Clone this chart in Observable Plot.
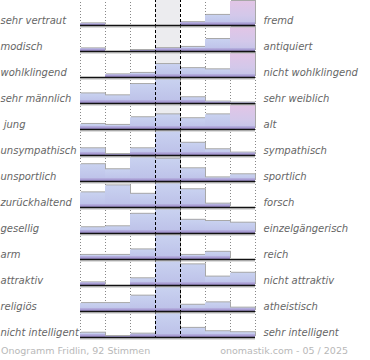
<!DOCTYPE html>
<html>
<head>
<meta charset="utf-8">
<script src="https://cdn.jsdelivr.net/npm/d3@7"></script>
<script src="https://cdn.jsdelivr.net/npm/@observablehq/plot@0.6"></script>
<style>
  body { margin: 0; background: #fff; }
  #chart svg text { white-space: pre; }
  #foot { display: flex; justify-content: space-between; width: 347px; padding-left: 1px;
          font: 9.5px "DejaVu Sans", sans-serif; color: #b8b8b8; height: 18px; line-height: 18px; }
</style>
</head>
<body>
<div id="chart"></div>
<div id="foot"><span>Onogramm Fridlin, 92 Stimmen</span><span>onomastik.com - 05 / 2025</span></div>
<script>
const leftLabels = ["sehr vertraut", "modisch", "wohlklingend", "sehr männlich", " jung", "unsympathisch", "unsportlich", "zurückhaltend", "gesellig", "arm", "attraktiv", "religiös", "nicht intelligent"];
const rightLabels = ["fremd", "antiquiert", "nicht wohlklingend", "sehr weiblich", "alt", "sympathisch", "sportlich", "forsch", "einzelgängerisch", "reich", "nicht attraktiv", "atheistisch", "sehr intelligent"];
const steps = [1, 2, 3, 4, 5, 6, 7];
// share of each answer, relative to the most frequent answer of the row (= 100)
const votes = [
  [7, 0, 0, 0, 12, 42, 100],
  [11, 0, 4, 12, 17, 50, 100],
  [0, 11, 17, 54, 37, 32, 100],
  [40, 32, 79, 100, 24, 6, 2],
  [21, 17, 49, 61, 45, 61, 100],
  [28, 4, 28, 100, 51, 24, 10],
  [70, 49, 100, 93, 53, 15, 28],
  [61, 90, 55, 100, 74, 14, 0],
  [24, 28, 80, 100, 55, 50, 43],
  [17, 17, 40, 100, 17, 30, 0],
  [11, 0, 28, 100, 86, 35, 51],
  [33, 33, 64, 100, 26, 36, 14],
  [18, 4, 14, 100, 38, 24, 20]
];

const table = leftLabels.flatMap((row, i) => votes[i].map((v, j) => ({
  row, col: steps[j], v, extreme: v === Math.max(...votes[i]) && j === steps.length - 1
})));
const bars = table.filter(d => d.v > 0);
const rows = leftLabels.map((row, i) => ({row, right: rightLabels[i]}));

const chart = Plot.plot({
  width: 370,
  height: 342,
  marginTop: -1,
  marginBottom: 5,
  marginLeft: 80,
  marginRight: 115,
  x: {domain: steps, padding: 0, axis: null},
  y: {domain: [0, 100 * 26 / 24], axis: null},
  fy: {domain: leftLabels, padding: 0, axis: null},
  marks: [
    Plot.cell(leftLabels.map(row => ({row, col: 4})), {x: "col", fy: "row", fill: "#ececef", inset: 0}),
    Plot.ruleX([1, 2, 3, 6, 7], {x: d => d, dx: -12.5, stroke: "#888", strokeDasharray: "1,2"}),
    Plot.ruleX([7], {x: d => d, dx: 12.5, stroke: "#888", strokeDasharray: "1,2"}),
    Plot.barY(bars, {x: "col", y: "v", fy: "row", fill: "#a8a8a8", dx: 1, dy: -1}),
    Plot.barY(bars.filter(d => !d.extreme), {x: "col", y: "v", fy: "row", fill: "url(#gBlue)"}),
    Plot.barY(bars.filter(d => d.extreme), {x: "col", y: "v", fy: "row", fill: "url(#gPink)"}),
    Plot.barY(bars, {x: "col", y: d => Math.min(d.v, 12), fy: "row", fill: "url(#gStrip)"}),
    Plot.ruleX([4], {x: d => d, dx: -12.5, stroke: "#000", strokeDasharray: "3,2"}),
    Plot.ruleX([4], {x: d => d, dx: 12.5, stroke: "#000", strokeDasharray: "3,2"}),
    Plot.ruleY([0], {stroke: "#bbb", strokeWidth: 1, dy: 1.5}),
    Plot.ruleY([0], {stroke: "#111", strokeWidth: 1.5}),
    Plot.text(rows, {fy: "row", text: "row", frameAnchor: "bottom-left", dx: -80, dy: -5,
      textAnchor: "start", lineAnchor: "middle", fontFamily: "DejaVu Sans", fontStyle: "italic",
      fontSize: 10, fill: "#666"}),
    Plot.text(rows, {fy: "row", text: "right", frameAnchor: "bottom-right", dx: 8, dy: -5,
      textAnchor: "start", lineAnchor: "middle", fontFamily: "DejaVu Sans", fontStyle: "italic",
      fontSize: 10, fill: "#666"})
  ]
});

const svg = d3.select(chart);
const defs = svg.insert("defs", ":first-child");
function grad(id, stops) {
  const g = defs.append("linearGradient").attr("id", id).attr("x1", 0).attr("y1", 0).attr("x2", 0).attr("y2", 1);
  stops.forEach(([o, c]) => g.append("stop").attr("offset", o).attr("stop-color", c));
}
grad("gBlue", [[0, "#c9d2f0"], [1, "#bcc0e8"]]);
grad("gPink", [[0, "#e2c5e6"], [0.6, "#d3c8ea"], [1, "#c2c3e8"]]);
grad("gStrip", [[0, "#b5afde"], [1, "#9a8ac8"]]);
document.getElementById("chart").appendChild(chart);
</script>
</body>
</html>
